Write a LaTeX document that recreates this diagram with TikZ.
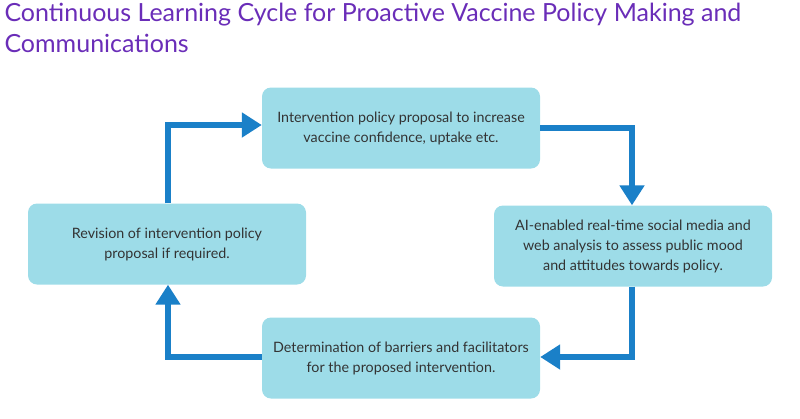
\documentclass[tikz,border=0pt]{standalone}
\usepackage{fontspec}
\setmainfont{Lato}
\usetikzlibrary{arrows.meta}
\definecolor{boxc}{HTML}{9DDCE8}
\definecolor{arrc}{HTML}{1A80C8}
\definecolor{titc}{HTML}{6A2DB8}
\begin{document}
\begin{tikzpicture}[x=1pt,y=-1pt,
  box/.style={draw=none,fill=boxc,rounded corners=9pt,minimum width=278pt,minimum height=81pt,align=center,font=\fontsize{14.3}{20}\selectfont,text=black!80},
  arr/.style={draw=arrc,line width=6pt,-{Triangle[width=24pt,length=20pt]}}]
\useasboundingbox (0,0) rectangle (800,418);
\node[anchor=north west,align=left,text=titc,font=\fontsize{25}{31}\selectfont] (title) at (1,0) {Continuous Learning Cycle for Proactive Vaccine Policy Making and\\Communications};
\node[box] (top) at (401,128) {Intervention policy proposal to increase\\vaccine confidence, uptake etc.};
\node[box] (right) at (633,246) {AI-enabled real-time social media and\\web analysis to assess public mood\\and attitudes towards policy.};
\node[box] (bot) at (401,358) {Determination of barriers and facilitators\\for the proposed intervention.};
\node[box] (left) at (167,244) {Revision of intervention policy\\proposal if required.};
\draw[arr] (top.east) -- (632,128) -- (right.north -| 632,0);
\draw[arr] (right.south -| 632,0) -- (632,357) -- (bot.east |- 0,357);
\draw[arr] (bot.west |- 0,357) -- (168,357) -- (left.south -| 168,0);
\draw[arr] (left.north -| 168,0) -- (168,125) -- (top.west |- 0,125);
\end{tikzpicture}
\end{document}
